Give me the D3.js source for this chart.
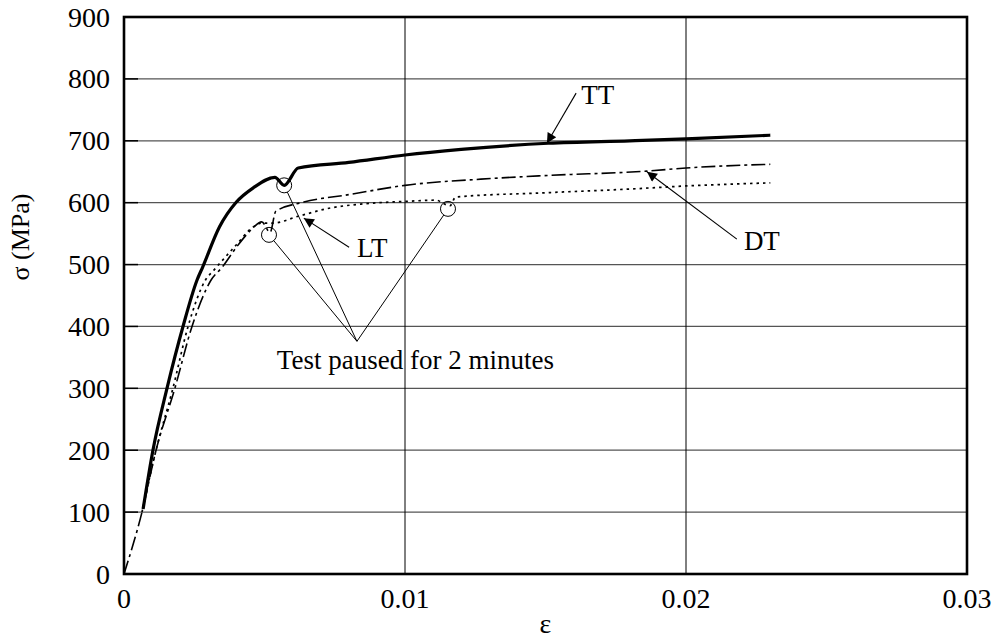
<html>
<head>
<meta charset="utf-8">
<title>stress strain</title>
<script src="https://cdn.jsdelivr.net/npm/d3@7"></script>
<style>
  body { margin: 0; background: #fff; }
  svg text { font-family: "Liberation Serif", serif; }
</style>
</head>
<body>
<svg id="chart" width="996" height="641"></svg>
<script>
// strain / stress readings, [epsilon, sigma MPa]
var ttData = [[0.00068,105],[0.00103,200],[0.00153,300],[0.0021,400],[0.0026,475],[0.0028,496],
  [0.0034,561],[0.0040,601],[0.0046,624],[0.00537,641],[0.0057,628],[0.0062,656],[0.008,665],
  [0.01,677],[0.012,686],[0.0151,696],[0.018,700],[0.02,703],[0.023,709]];
var dtData = [[0,0],[0.00064,100],[0.00114,200],[0.00181,300],[0.00242,400],[0.0031,475],[0.0035,496],
  [0.0040,528],[0.0045,555],[0.0049,569],[0.0052,552],[0.0054,586],[0.0064,601],[0.008,613],
  [0.01,628],[0.0127,638],[0.0151,644],[0.0186,651],[0.02,656],[0.023,662]];
var ltData = [[0.00064,100],[0.00114,200],[0.00174,300],[0.00228,400],[0.0029,475],[0.0032,491],
  [0.0040,532],[0.00455,559],[0.0049,567],[0.0053,567],[0.0062,578],[0.0073,591],[0.0085,598],
  [0.01,602],[0.0111,604],[0.0116,595],[0.0118,609],[0.015,616],[0.018,622],[0.02,627],[0.023,632]];

var xTicks = [0, 0.01, 0.02, 0.03];
var xTickLabels = ["0", "0.01", "0.02", "0.03"];
var yTicks = [0, 100, 200, 300, 400, 500, 600, 700, 800, 900];

// circled pause points and the shared note
var pausePoints = [[0.0057, 628], [0.00516, 548], [0.01153, 590]];
var noteHub = [0.00829, 376];
var noteText = "Test paused for 2 minutes";
var noteAt = [0.00544, 331];

// curve labels: text, text position, arrow tail, arrow tip
var curveLabels = [
  { name: "TT", at: [0.01627, 760], from: [0.01609, 777], to: [0.01505, 696] },
  { name: "LT", at: [0.00829, 513], from: [0.00801, 528], to: [0.0064, 575] },
  { name: "DT", at: [0.02206, 523], from: [0.02181, 541], to: [0.01861, 650] }
];

var margin = { top: 17, right: 29, bottom: 67, left: 124 };
var width = 996 - margin.left - margin.right;
var height = 641 - margin.top - margin.bottom;

var svg = d3.select("#chart");
var g = svg.append("g").attr("transform", "translate(" + margin.left + "," + margin.top + ")");

var x = d3.scaleLinear().domain([0, 0.03]).range([0, width]);
var y = d3.scaleLinear().domain([0, 900]).range([height, 0]);

// grid
g.selectAll(".hgrid").data(yTicks.slice(1, -1)).enter().append("line")
  .attr("x1", 0).attr("x2", width)
  .attr("y1", d => y(d)).attr("y2", d => y(d))
  .attr("stroke", "#555").attr("stroke-width", 1.3);
g.selectAll(".vgrid").data(xTicks.slice(1, -1)).enter().append("line")
  .attr("x1", d => x(d)).attr("x2", d => x(d))
  .attr("y1", 0).attr("y2", height)
  .attr("stroke", "#000").attr("stroke-width", 1);
// short inner ticks on the left edge
g.selectAll(".ytick").data(yTicks.slice(1, -1)).enter().append("line")
  .attr("x1", 0).attr("x2", 14)
  .attr("y1", d => y(d)).attr("y2", d => y(d))
  .attr("stroke", "#000").attr("stroke-width", 1.5);

// tick labels
g.selectAll(".ylab").data(yTicks).enter().append("text")
  .attr("x", -14).attr("y", d => y(d)).attr("dy", "0.34em")
  .attr("text-anchor", "end").style("font-size", "28px").text(d => d);
g.selectAll(".xlab").data(xTicks).enter().append("text")
  .attr("x", d => x(d)).attr("y", height + 34)
  .attr("text-anchor", "middle").style("font-size", "28px").text((d, i) => xTickLabels[i]);

// axis titles
svg.append("text").attr("transform", "translate(29,237) rotate(-90)")
  .attr("text-anchor", "middle").style("font-size", "26px").text("σ (MPa)");
svg.append("text").attr("x", margin.left + x(0.015)).attr("y", 633)
  .attr("text-anchor", "middle").style("font-size", "28px").text("ε");

// curves
var line = d3.line().curve(d3.curveMonotoneX).x(d => x(d[0])).y(d => y(d[1]));
g.append("path").datum(ltData).attr("d", line).attr("fill", "none")
  .attr("stroke", "#000").attr("stroke-width", 1.7).attr("stroke-dasharray", "2.5,4");
g.append("path").datum(dtData).attr("d", line).attr("fill", "none")
  .attr("stroke", "#000").attr("stroke-width", 1.6).attr("stroke-dasharray", "14,4,3,4");
g.append("path").datum(ttData).attr("d", line).attr("fill", "none")
  .attr("stroke", "#000").attr("stroke-width", 3.2);

// pause circles and leader lines
var r = 7.5;
g.selectAll(".pause").data(pausePoints).enter().append("circle")
  .attr("cx", d => x(d[0])).attr("cy", d => y(d[1])).attr("r", r)
  .attr("fill", "none").attr("stroke", "#000").attr("stroke-width", 1);
pausePoints.forEach(function(p) {
  var hx = x(noteHub[0]), hy = y(noteHub[1]);
  var cx = x(p[0]), cy = y(p[1]);
  var dx = hx - cx, dy = hy - cy, len = Math.sqrt(dx * dx + dy * dy);
  g.append("line").attr("x1", hx).attr("y1", hy)
    .attr("x2", cx + dx / len * r).attr("y2", cy + dy / len * r)
    .attr("stroke", "#000").attr("stroke-width", 1);
});
g.append("text").attr("x", x(noteAt[0])).attr("y", y(noteAt[1]))
  .style("font-size", "27px").text(noteText);

// labelled arrows
var defs = svg.append("defs");
defs.append("marker").attr("id", "head").attr("viewBox", "0 0 10 10")
  .attr("refX", 10).attr("refY", 5).attr("markerWidth", 16).attr("markerHeight", 10)
  .attr("markerUnits", "userSpaceOnUse").attr("orient", "auto")
  .append("path").attr("d", "M0,0 L10,5 L0,10 Z").attr("fill", "#000");
curveLabels.forEach(function(c) {
  g.append("line").attr("x1", x(c.from[0])).attr("y1", y(c.from[1]))
    .attr("x2", x(c.to[0])).attr("y2", y(c.to[1]))
    .attr("stroke", "#000").attr("stroke-width", 1.1).attr("marker-end", "url(#head)");
  g.append("text").attr("x", x(c.at[0])).attr("y", y(c.at[1]))
    .style("font-size", "27px").text(c.name);
});

// frame
g.append("rect").attr("x", 0).attr("y", 0).attr("width", width).attr("height", height)
  .attr("fill", "none").attr("stroke", "#000").attr("stroke-width", 2.6);
</script>
</body>
</html>
